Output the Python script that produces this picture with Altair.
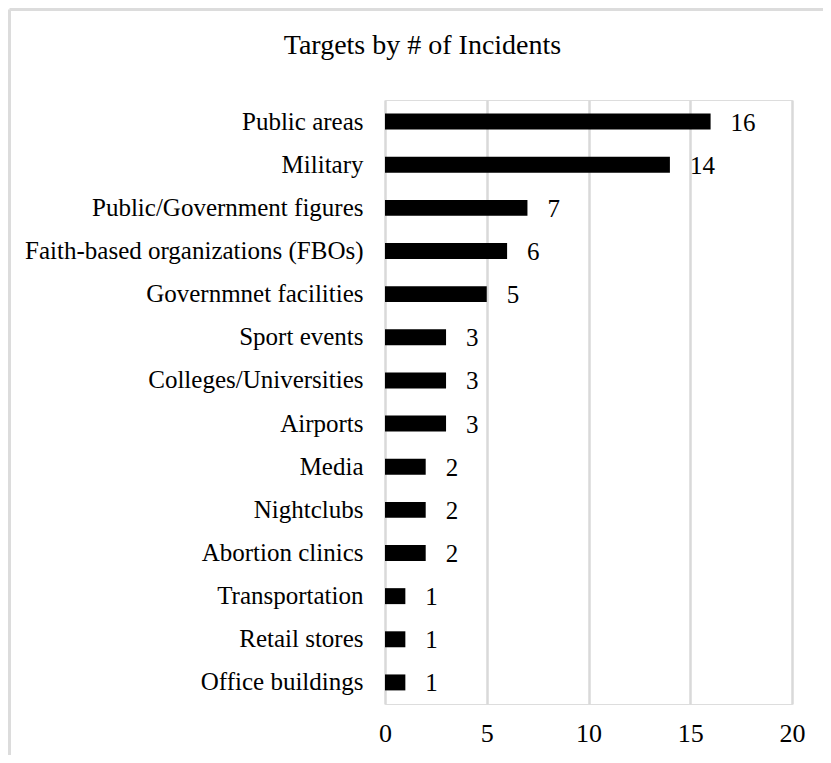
import altair as alt
import pandas as pd

categories = ["Public areas", "Military", "Public/Government figures",
              "Faith-based organizations (FBOs)", "Governmnet facilities",
              "Sport events", "Colleges/Universities", "Airports", "Media",
              "Nightclubs", "Abortion clinics", "Transportation",
              "Retail stores", "Office buildings"]
incidents = [16, 14, 7, 6, 5, 3, 3, 3, 2, 2, 2, 1, 1, 1]
x_ticks = [0, 5, 10, 15, 20]

df = pd.DataFrame({"Target": categories, "Incidents": incidents})
FONT = "Liberation Serif"
FS = 25

base = alt.Chart(df)

bars = base.mark_bar(color="black").encode(
    x=alt.X("Incidents:Q",
            scale=alt.Scale(domain=[0, 20], nice=False, zero=True),
            axis=alt.Axis(values=x_ticks, title=None, domain=False, ticks=False,
                          tickSize=0, grid=True, gridColor="#d9d9d9", gridWidth=2.5,
                          labelFont=FONT, labelFontSize=26, labelColor="black",
                          labelPadding=16, labelBaseline="top", labelFlush=False)),
    y=alt.Y("Target:N", sort=categories,
            scale=alt.Scale(paddingInner=0.63, paddingOuter=0.315),
            axis=alt.Axis(title=None, domain=False, ticks=False, tickSize=0,
                          grid=False, labelFont=FONT, labelFontSize=FS,
                          labelColor="black", labelPadding=22, labelLimit=500)),
)

labels = base.mark_text(align="left", baseline="middle", dx=20, dy=1,
                        font=FONT, fontSize=FS, color="black").encode(
    x="Incidents:Q",
    y=alt.Y("Target:N", sort=categories),
    text="Incidents:Q",
)

frame_df = pd.DataFrame({"a": [0]})
frame_left = alt.Chart(frame_df).mark_rule(color="#dcdcdc", strokeWidth=3).encode(
    x=alt.value(-375.5), y=alt.value(-90.5), y2=alt.value(700))
frame_top = alt.Chart(frame_df).mark_rule(color="#dcdcdc", strokeWidth=3).encode(
    x=alt.value(-375.5), x2=alt.value(500), y=alt.value(-90.5))

chart = alt.layer(frame_left, frame_top, bars, labels).properties(
    width=407, height=604,
    title=alt.TitleParams("Targets by # of Incidents", font=FONT, fontSize=28,
                          fontWeight="normal", color="black", anchor="middle",
                          baseline="alphabetic", offset=-74, dx=-166),
    autosize=alt.AutoSizeParams(type="none"),
    padding={"left": 377, "top": 92, "right": 31, "bottom": 51},
).configure_view(stroke=None).configure(background="white")

chart.save("out.html", embed_options={"renderer": "svg", "actions": False})
